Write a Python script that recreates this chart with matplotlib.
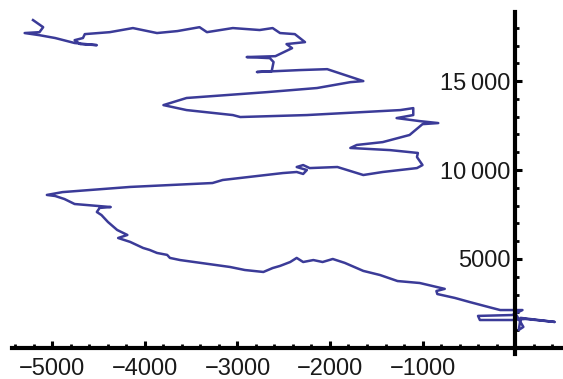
import matplotlib
matplotlib.use("Agg")
from matplotlib import pyplot as plt

# path of the walk (start near the origin)
xs = [20, 90, 40, 60, 430, 110, -30, -380, -400, -30, 80, -160, -250, -490,
      -650, -840, -850, -760, -1030, -1270, -1460, -1640, -1840, -1970, -2080,
      -2180, -2290, -2360, -2430, -2540, -2620, -2720, -2920, -3080, -3400,
      -3620, -3730, -3760, -3870, -3950, -4020, -4160, -4290, -4190, -4300,
      -4400, -4470, -4520, -4490, -4370, -4760, -4870, -4970, -5060, -4890,
      -4160, -3270, -3160, -2510, -2360, -2290, -2250, -2360, -2290, -2220,
      -1920, -1640, -1430, -1060, -1000, -1060, -1050, -1350, -1780, -1710,
      -1430, -1140, -1050, -1000, -830, -1030, -1280, -1100, -1100, -1240,
      -2250, -2970, -3050, -3550, -3800, -3550, -2680, -2140, -1780, -1640,
      -2030, -2320, -2790, -2630, -2610, -2650, -2900, -2590, -2410, -2470,
      -2270, -2380, -2540, -2620, -2760, -3050, -3330, -3410, -3650, -3870,
      -4130, -4380, -4650, -4670, -4760, -4700, -4520, -4760, -4970, -5140,
      -5300, -5140, -5100, -5210]
ys = [1800, 1180, 1010, 1690, 1460, 1630, 1570, 1570, 1800, 1850, 2130, 2130,
      2250, 2580, 2810, 3030, 3200, 3320, 3650, 3760, 4100, 4330, 4780, 5000,
      4830, 4940, 4830, 5060, 4830, 4610, 4490, 4270, 4380, 4550, 4780, 4940,
      5060, 5230, 5340, 5510, 5620, 5960, 6180, 6350, 6630, 7080, 7470, 7640,
      7870, 7920, 8090, 8370, 8540, 8600, 8760, 9050, 9270, 9440, 9830, 9890,
      9780, 10000, 10170, 10280, 10110, 10170, 9720, 9890, 10110, 10280, 10730,
      10960, 11120, 11240, 11410, 11570, 11970, 12360, 12580, 12640, 12750,
      12920, 13090, 13480, 13370, 13090, 12980, 13090, 13370, 13650, 14050,
      14380, 14610, 14940, 15000, 15670, 15620, 15510, 15560, 16070, 16290,
      16350, 16400, 16850, 17080, 17190, 17640, 17700, 17980, 17870, 17980,
      17750, 18030, 17810, 17700, 17980, 17750, 17640, 17420, 17300, 17080,
      17020, 17140, 17420, 17580, 17700, 17750, 18030, 18430]

x_ticks = [-5000, -4000, -3000, -2000, -1000]
x_labels = ["\u22125000", "\u22124000", "\u22123000", "\u22122000", "\u22121000"]
y_ticks = [5000, 10000, 15000]
y_labels = ["5000", "10\u2009000", "15\u2009000"]

plt.rcParams['font.family'] = ['Liberation Sans', 'DejaVu Sans']

fig = plt.figure(figsize=(5.63, 3.79), dpi=100)
ax = fig.add_axes([0.0213, 0.066, 0.977, 0.902])

ax.plot(xs, ys, color='#3b3b98', lw=1.8, solid_joinstyle='round')

ax.set_xlim(-5437, 508)
ax.set_ylim(-340, 18876)

# axes cross at the origin, like Mathematica
ax.spines['left'].set_position(('data', 0))
ax.spines['bottom'].set_position(('data', 0))
ax.spines['right'].set_visible(False)
ax.spines['top'].set_visible(False)
for s in ('left', 'bottom'):
    ax.spines[s].set_linewidth(3)
    ax.spines[s].set_color('black')

ax.set_xticks(x_ticks, x_labels)
ax.set_yticks(y_ticks, y_labels)
ax.set_xticks(range(-5400, 501, 200), minor=True)
ax.set_yticks(range(0, 18001, 1000), minor=True)

ax.tick_params(which='major', direction='in', length=5, width=2.2,
               labelsize=17, colors='black', labelcolor='#1a1a1a')
ax.tick_params(which='minor', direction='in', length=3, width=2)
ax.tick_params(axis='x', which='major', pad=7)
ax.tick_params(axis='y', which='major', pad=3)

fig.savefig('out.png', dpi=100)
